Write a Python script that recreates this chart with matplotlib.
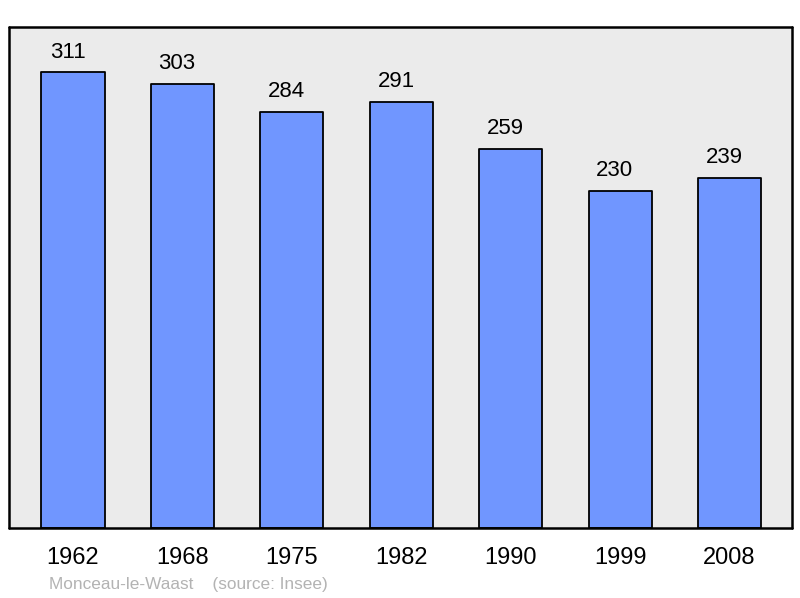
import matplotlib
matplotlib.use("Agg")
import matplotlib.pyplot as plt

years = ["1962", "1968", "1975", "1982", "1990", "1999", "2008"]
population = [311, 303, 284, 291, 259, 230, 239]
caption = "Monceau-le-Waast    (source: Insee)"

plt.rcParams['font.family'] = ['Liberation Sans', 'DejaVu Sans']

fig = plt.figure(figsize=(8, 5.98), dpi=100)
ax = fig.add_axes([9/800, 1 - 528/598, (792 - 9)/800, (528 - 27)/598])
ax.set_facecolor('#ebebeb')

x = list(range(len(years)))
bars = ax.bar(x, population, width=0.576, color='#7096ff', edgecolor='black',
              linewidth=1.3, zorder=2)
for b in bars:
    b.set_joinstyle('round')

for xi, v in zip(x, population):
    ax.annotate(str(v), (xi, v), xytext=(-3.8, 7), textcoords='offset points',
                ha='center', va='bottom', fontsize=16, color='black')

ax.set_xlim(-0.585, 6.571)
ax.set_ylim(0, 342)
ax.set_xticks(x)
ax.set_xticklabels(years, fontsize=17)
ax.tick_params(axis='x', length=0, pad=13.5)
ax.set_yticks([])
for s in ax.spines.values():
    s.set_linewidth(1.8)
    s.set_joinstyle('round')
    s.set_capstyle('round')

fig.text(49/800, 1 - 584/598, caption, fontsize=12.4, color='#b3b3b3',
         ha='left', va='center')

fig.savefig('out.png', dpi=100)
